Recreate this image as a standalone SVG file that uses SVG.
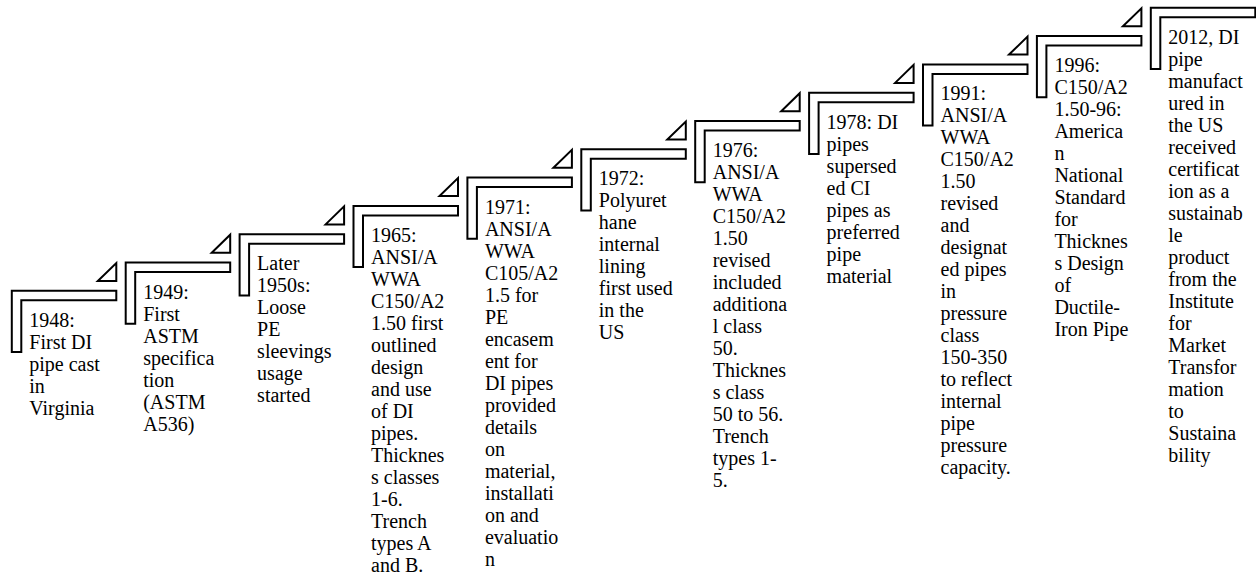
<svg xmlns="http://www.w3.org/2000/svg" xmlns:xlink="http://www.w3.org/1999/xlink" width="1256" height="575" viewBox="0 0 1256 575">
<style>
.frame{fill:#fff;stroke:#000;stroke-width:2;stroke-linejoin:miter}
.tri{fill:#fff;stroke:#000;stroke-width:2;stroke-linejoin:miter}
text{font-family:'Liberation Serif','Times New Roman',serif;font-size:20px;fill:#000}
</style>
<defs>
<path id="frame" class="frame" d="M0,61.2 V0 H104.5 V9.5 H9.5 V61.2 Z"/>
<polygon id="tri" class="tri" points="86,-9.8 104.5,-9.8 104.5,-27.8"/>
</defs>
<rect width="1256" height="575" fill="#fff"/>
<g id="connectors">
<use xlink:href="#tri" transform="translate(11.8,290.8)"/>
<use xlink:href="#tri" transform="translate(125.7,262.5)"/>
<use xlink:href="#tri" transform="translate(239.6,234.2)"/>
<use xlink:href="#tri" transform="translate(353.5,205.9)"/>
<use xlink:href="#tri" transform="translate(467.4,177.6)"/>
<use xlink:href="#tri" transform="translate(581.3,149.3)"/>
<use xlink:href="#tri" transform="translate(695.2,121.0)"/>
<use xlink:href="#tri" transform="translate(809.1,92.7)"/>
<use xlink:href="#tri" transform="translate(923.0,64.4)"/>
<use xlink:href="#tri" transform="translate(1036.9,36.1)"/>
</g>
<g id="step-1948" transform="translate(11.8,290.8)">
<use xlink:href="#frame"/>
<text font-family="Liberation Serif, Times New Roman, serif" y="14"><tspan x="17.5" dy="22">1948:</tspan><tspan x="17.5" dy="22">First DI</tspan><tspan x="17.5" dy="22">pipe cast</tspan><tspan x="17.5" dy="22">in</tspan><tspan x="17.5" dy="22">Virginia</tspan></text>
</g>
<g id="step-1949" transform="translate(125.7,262.5)">
<use xlink:href="#frame"/>
<text font-family="Liberation Serif, Times New Roman, serif" y="14"><tspan x="17.5" dy="22">1949:</tspan><tspan x="17.5" dy="22">First</tspan><tspan x="17.5" dy="22">ASTM</tspan><tspan x="17.5" dy="22">specifica</tspan><tspan x="17.5" dy="22">tion</tspan><tspan x="17.5" dy="22">(ASTM</tspan><tspan x="17.5" dy="22">A536)</tspan></text>
</g>
<g id="step-1950s" transform="translate(239.6,234.2)">
<use xlink:href="#frame"/>
<text font-family="Liberation Serif, Times New Roman, serif" y="14"><tspan x="17.5" dy="22">Later</tspan><tspan x="17.5" dy="22">1950s:</tspan><tspan x="17.5" dy="22">Loose</tspan><tspan x="17.5" dy="22">PE</tspan><tspan x="17.5" dy="22">sleevings</tspan><tspan x="17.5" dy="22">usage</tspan><tspan x="17.5" dy="22">started</tspan></text>
</g>
<g id="step-1965" transform="translate(353.5,205.9)">
<use xlink:href="#frame"/>
<text font-family="Liberation Serif, Times New Roman, serif" y="14"><tspan x="17.5" dy="22">1965:</tspan><tspan x="17.5" dy="22">ANSI/A</tspan><tspan x="17.5" dy="22">WWA</tspan><tspan x="17.5" dy="22">C150/A2</tspan><tspan x="17.5" dy="22">1.50 first</tspan><tspan x="17.5" dy="22">outlined</tspan><tspan x="17.5" dy="22">design</tspan><tspan x="17.5" dy="22">and use</tspan><tspan x="17.5" dy="22">of DI</tspan><tspan x="17.5" dy="22">pipes.</tspan><tspan x="17.5" dy="22">Thicknes</tspan><tspan x="17.5" dy="22">s classes</tspan><tspan x="17.5" dy="22">1-6.</tspan><tspan x="17.5" dy="22">Trench</tspan><tspan x="17.5" dy="22">types A</tspan><tspan x="17.5" dy="22">and B.</tspan></text>
</g>
<g id="step-1971" transform="translate(467.4,177.6)">
<use xlink:href="#frame"/>
<text font-family="Liberation Serif, Times New Roman, serif" y="14"><tspan x="17.5" dy="22">1971:</tspan><tspan x="17.5" dy="22">ANSI/A</tspan><tspan x="17.5" dy="22">WWA</tspan><tspan x="17.5" dy="22">C105/A2</tspan><tspan x="17.5" dy="22">1.5 for</tspan><tspan x="17.5" dy="22">PE</tspan><tspan x="17.5" dy="22">encasem</tspan><tspan x="17.5" dy="22">ent for</tspan><tspan x="17.5" dy="22">DI pipes</tspan><tspan x="17.5" dy="22">provided</tspan><tspan x="17.5" dy="22">details</tspan><tspan x="17.5" dy="22">on</tspan><tspan x="17.5" dy="22">material,</tspan><tspan x="17.5" dy="22">installati</tspan><tspan x="17.5" dy="22">on and</tspan><tspan x="17.5" dy="22">evaluatio</tspan><tspan x="17.5" dy="22">n</tspan></text>
</g>
<g id="step-1972" transform="translate(581.3,149.3)">
<use xlink:href="#frame"/>
<text font-family="Liberation Serif, Times New Roman, serif" y="14"><tspan x="17.5" dy="22">1972:</tspan><tspan x="17.5" dy="22">Polyuret</tspan><tspan x="17.5" dy="22">hane</tspan><tspan x="17.5" dy="22">internal</tspan><tspan x="17.5" dy="22">lining</tspan><tspan x="17.5" dy="22">first used</tspan><tspan x="17.5" dy="22">in the</tspan><tspan x="17.5" dy="22">US</tspan></text>
</g>
<g id="step-1976" transform="translate(695.2,121.0)">
<use xlink:href="#frame"/>
<text font-family="Liberation Serif, Times New Roman, serif" y="14"><tspan x="17.5" dy="22">1976:</tspan><tspan x="17.5" dy="22">ANSI/A</tspan><tspan x="17.5" dy="22">WWA</tspan><tspan x="17.5" dy="22">C150/A2</tspan><tspan x="17.5" dy="22">1.50</tspan><tspan x="17.5" dy="22">revised</tspan><tspan x="17.5" dy="22">included</tspan><tspan x="17.5" dy="22">additiona</tspan><tspan x="17.5" dy="22">l class</tspan><tspan x="17.5" dy="22">50.</tspan><tspan x="17.5" dy="22">Thicknes</tspan><tspan x="17.5" dy="22">s class</tspan><tspan x="17.5" dy="22">50 to 56.</tspan><tspan x="17.5" dy="22">Trench</tspan><tspan x="17.5" dy="22">types 1-</tspan><tspan x="17.5" dy="22">5.</tspan></text>
</g>
<g id="step-1978" transform="translate(809.1,92.7)">
<use xlink:href="#frame"/>
<text font-family="Liberation Serif, Times New Roman, serif" y="14"><tspan x="17.5" dy="22">1978: DI</tspan><tspan x="17.5" dy="22">pipes</tspan><tspan x="17.5" dy="22">supersed</tspan><tspan x="17.5" dy="22">ed CI</tspan><tspan x="17.5" dy="22">pipes as</tspan><tspan x="17.5" dy="22">preferred</tspan><tspan x="17.5" dy="22">pipe</tspan><tspan x="17.5" dy="22">material</tspan></text>
</g>
<g id="step-1991" transform="translate(923.0,64.4)">
<use xlink:href="#frame"/>
<text font-family="Liberation Serif, Times New Roman, serif" y="14"><tspan x="17.5" dy="22">1991:</tspan><tspan x="17.5" dy="22">ANSI/A</tspan><tspan x="17.5" dy="22">WWA</tspan><tspan x="17.5" dy="22">C150/A2</tspan><tspan x="17.5" dy="22">1.50</tspan><tspan x="17.5" dy="22">revised</tspan><tspan x="17.5" dy="22">and</tspan><tspan x="17.5" dy="22">designat</tspan><tspan x="17.5" dy="22">ed pipes</tspan><tspan x="17.5" dy="22">in</tspan><tspan x="17.5" dy="22">pressure</tspan><tspan x="17.5" dy="22">class</tspan><tspan x="17.5" dy="22">150-350</tspan><tspan x="17.5" dy="22">to reflect</tspan><tspan x="17.5" dy="22">internal</tspan><tspan x="17.5" dy="22">pipe</tspan><tspan x="17.5" dy="22">pressure</tspan><tspan x="17.5" dy="22">capacity.</tspan></text>
</g>
<g id="step-1996" transform="translate(1036.9,36.1)">
<use xlink:href="#frame"/>
<text font-family="Liberation Serif, Times New Roman, serif" y="14"><tspan x="17.5" dy="22">1996:</tspan><tspan x="17.5" dy="22">C150/A2</tspan><tspan x="17.5" dy="22">1.50-96:</tspan><tspan x="17.5" dy="22">America</tspan><tspan x="17.5" dy="22">n</tspan><tspan x="17.5" dy="22">National</tspan><tspan x="17.5" dy="22">Standard</tspan><tspan x="17.5" dy="22">for</tspan><tspan x="17.5" dy="22">Thicknes</tspan><tspan x="17.5" dy="22">s Design</tspan><tspan x="17.5" dy="22">of</tspan><tspan x="17.5" dy="22">Ductile-</tspan><tspan x="17.5" dy="22">Iron Pipe</tspan></text>
</g>
<g id="step-2012" transform="translate(1150.8,7.8)">
<use xlink:href="#frame"/>
<text font-family="Liberation Serif, Times New Roman, serif" y="14"><tspan x="17.5" dy="22">2012, DI</tspan><tspan x="17.5" dy="22">pipe</tspan><tspan x="17.5" dy="22">manufact</tspan><tspan x="17.5" dy="22">ured in</tspan><tspan x="17.5" dy="22">the US</tspan><tspan x="17.5" dy="22">received</tspan><tspan x="17.5" dy="22">certificat</tspan><tspan x="17.5" dy="22">ion as a</tspan><tspan x="17.5" dy="22">sustainab</tspan><tspan x="17.5" dy="22">le</tspan><tspan x="17.5" dy="22">product</tspan><tspan x="17.5" dy="22">from the</tspan><tspan x="17.5" dy="22">Institute</tspan><tspan x="17.5" dy="22">for</tspan><tspan x="17.5" dy="22">Market</tspan><tspan x="17.5" dy="22">Transfor</tspan><tspan x="17.5" dy="22">mation</tspan><tspan x="17.5" dy="22">to</tspan><tspan x="17.5" dy="22">Sustaina</tspan><tspan x="17.5" dy="22">bility</tspan></text>
</g>
</svg>
